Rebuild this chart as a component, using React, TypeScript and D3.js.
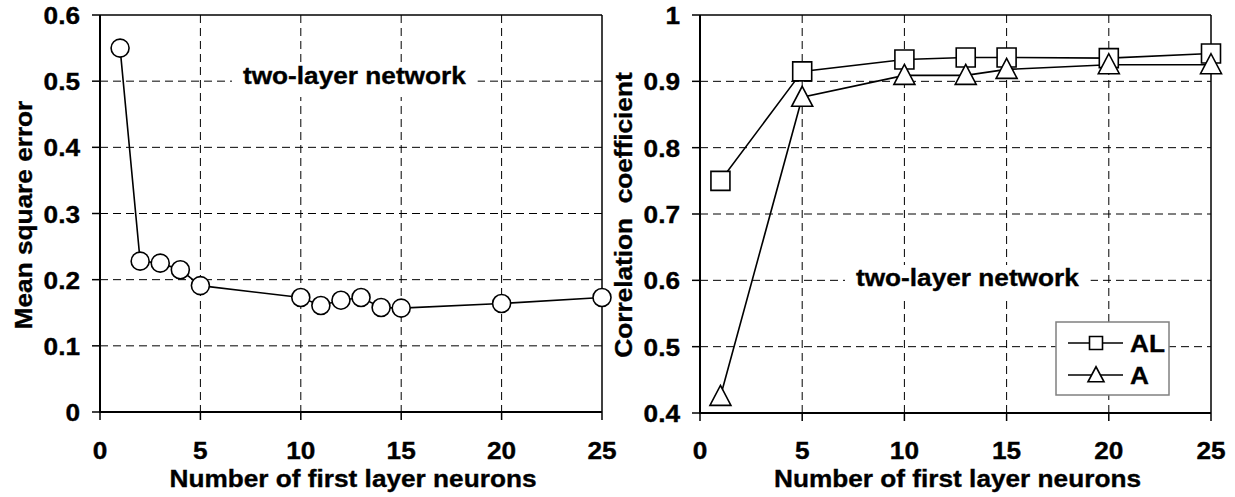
import React, { useEffect, useRef } from "react";
import * as d3 from "d3";

const width = 1235;
const height = 497;

const xTicks = [0, 5, 10, 15, 20, 25];
const mseTicks = [0, 0.1, 0.2, 0.3, 0.4, 0.5, 0.6];
const corrTicks = [0.4, 0.5, 0.6, 0.7, 0.8, 0.9, 1];

const mseX = [1, 2, 3, 4, 5, 10, 11, 12, 13, 14, 15, 20, 25];
const mseY = [0.55, 0.228, 0.225, 0.215, 0.191, 0.173, 0.161, 0.169, 0.173, 0.158, 0.157, 0.164, 0.173];

const corrX = [1, 5, 10, 13, 15, 20, 25];
const corrAL = [0.75, 0.915, 0.933, 0.936, 0.936, 0.935, 0.942];
const corrA = [0.425, 0.876, 0.909, 0.909, 0.918, 0.925, 0.925];

const seriesNames = ["AL", "A"];
const xTitle = "Number of first layer neurons";
const note = "two-layer network";

const FONT = "'Liberation Sans', Arial, sans-serif";
const SX = 1.07; // text in the picture is a bit wide
const FS = 24.5;

const fmt = (v) => String(+v.toFixed(1));

function txt(g, s, x, y, anchor = "start", rotate = 0, size = FS) {
  return g
    .append("text")
    .attr("transform", `translate(${x},${y})${rotate ? ` rotate(${rotate})` : ""} scale(${SX},1)`)
    .attr("text-anchor", anchor)
    .attr("font-family", FONT)
    .attr("font-weight", "bold")
    .attr("font-size", size)
    .attr("stroke", "#000")
    .attr("stroke-width", 0.35)
    .style("white-space", "pre")
    .text(s);
}

const squarePath = (s) => `M${-s / 2},${-s / 2}h${s}v${s}h${-s}Z`;
const trianglePath = (w, h) => `M0,${-h * 0.55}L${w / 2},${h * 0.45}L${-w / 2},${h * 0.45}Z`;

function drawPanel(svg, box, yTicks, yTitle, yTitleX, noteX, noteY) {
  const g = svg.append("g");
  const x = d3.scaleLinear().domain([0, 25]).range([box.left, box.right]);
  const y = d3.scaleLinear().domain([yTicks[0], yTicks[yTicks.length - 1]]).range([box.bottom, box.top]);

  // dashed grid
  xTicks.slice(1, -1).forEach((t) => {
    g.append("line")
      .attr("x1", x(t)).attr("x2", x(t))
      .attr("y1", box.top).attr("y2", box.bottom)
      .attr("stroke", "#000").attr("stroke-width", 1).attr("stroke-dasharray", "8,5");
  });
  yTicks.slice(1, -1).forEach((t) => {
    g.append("line")
      .attr("x1", box.left).attr("x2", box.right)
      .attr("y1", y(t)).attr("y2", y(t))
      .attr("stroke", "#000").attr("stroke-width", 1).attr("stroke-dasharray", "8,5");
  });

  // frame
  g.append("line").attr("x1", box.left).attr("x2", box.right).attr("y1", box.top).attr("y2", box.top)
    .attr("stroke", "#000").attr("stroke-width", 1.5);
  g.append("line").attr("x1", box.right).attr("x2", box.right).attr("y1", box.top).attr("y2", box.bottom)
    .attr("stroke", "#000").attr("stroke-width", 1.5);
  g.append("line").attr("x1", box.left).attr("x2", box.left).attr("y1", box.top).attr("y2", box.bottom + 1)
    .attr("stroke", "#000").attr("stroke-width", 2);
  g.append("line").attr("x1", box.left - 1).attr("x2", box.right).attr("y1", box.bottom).attr("y2", box.bottom)
    .attr("stroke", "#000").attr("stroke-width", 2);

  // ticks + labels
  yTicks.forEach((t) => {
    g.append("line").attr("x1", box.left - 8).attr("x2", box.left).attr("y1", y(t)).attr("y2", y(t))
      .attr("stroke", "#000").attr("stroke-width", 1.5);
    txt(g, fmt(t), box.left - 20, y(t) + 9, "end");
  });
  xTicks.forEach((t) => {
    g.append("line").attr("x1", x(t)).attr("x2", x(t)).attr("y1", box.bottom).attr("y2", box.bottom + 8)
      .attr("stroke", "#000").attr("stroke-width", 1.5);
    txt(g, String(t), x(t), 459, "middle");
  });

  txt(g, xTitle, (box.left + box.right) / 2 + 2, 487, "middle");
  txt(g, yTitle, yTitleX, 215, "middle", -90);

  // note with white backing
  const nt = txt(g, note, noteX, noteY, "start");
  const bb = nt.node().getBBox();
  const w = bb.width * SX;
  g.insert("rect", "text")
    .attr("x", noteX - 11).attr("y", noteY - 21)
    .attr("width", w + 22).attr("height", 34)
    .attr("fill", "#fff");

  return { g, x, y };
}

const App = () => {
  const svgRef = useRef();

  useEffect(() => {
    const svg = d3.select(svgRef.current);
    svg.selectAll("*").remove();

    // left panel
    const L = drawPanel(svg, { left: 100, right: 602, top: 15, bottom: 412 }, mseTicks, "Mean square error", 32, 243, 84);
    const mse = mseX.map((v, i) => [v, mseY[i]]);
    const lineL = d3.line().x((d) => L.x(d[0])).y((d) => L.y(d[1]));
    L.g.append("path").attr("d", lineL(mse)).attr("fill", "none").attr("stroke", "#000").attr("stroke-width", 1.6);
    L.g.selectAll(".pt").data(mse).enter().append("circle")
      .attr("cx", (d) => L.x(d[0])).attr("cy", (d) => L.y(d[1])).attr("r", 9)
      .attr("fill", "#fff").attr("stroke", "#000").attr("stroke-width", 1.6);

    // right panel
    const R = drawPanel(svg, { left: 700, right: 1211, top: 15, bottom: 413 }, corrTicks, "Correlation  coefficient", 632, 856, 286);
    const al = corrX.map((v, i) => [v, corrAL[i]]);
    const a = corrX.map((v, i) => [v, corrA[i]]);
    const lineR = d3.line().x((d) => R.x(d[0])).y((d) => R.y(d[1]));
    R.g.append("path").attr("d", lineR(al)).attr("fill", "none").attr("stroke", "#000").attr("stroke-width", 1.6);
    R.g.append("path").attr("d", lineR(a)).attr("fill", "none").attr("stroke", "#000").attr("stroke-width", 1.6);
    R.g.selectAll(".sq").data(al).enter().append("path")
      .attr("transform", (d) => `translate(${R.x(d[0])},${R.y(d[1])})`)
      .attr("d", squarePath(19))
      .attr("fill", "#fff").attr("stroke", "#000").attr("stroke-width", 1.6);
    R.g.selectAll(".tri").data(a).enter().append("path")
      .attr("transform", (d) => `translate(${R.x(d[0])},${R.y(d[1])})`)
      .attr("d", trianglePath(21, 20))
      .attr("fill", "#fff").attr("stroke", "#000").attr("stroke-width", 1.6);

    // legend
    const lg = R.g.append("g");
    lg.append("rect").attr("x", 1056).attr("y", 322).attr("width", 113).attr("height", 73)
      .attr("fill", "#fff").attr("stroke", "#808080").attr("stroke-width", 1.5);
    seriesNames.forEach((name, i) => {
      const cy = 343 + i * 32;
      lg.append("line").attr("x1", 1068).attr("x2", 1123).attr("y1", cy).attr("y2", cy)
        .attr("stroke", "#000").attr("stroke-width", 1.6);
      lg.append("path")
        .attr("transform", `translate(1096,${cy})`)
        .attr("d", i === 0 ? squarePath(13) : trianglePath(16, 15))
        .attr("fill", "#fff").attr("stroke", "#000").attr("stroke-width", 1.6);
      txt(lg, name, 1130, cy + 9, "start");
    });
  }, []);

  return (
    <svg
      ref={svgRef}
      width={width}
      height={height}
      style={{ position: "absolute", left: 0, top: 0, background: "#fff" }}
    ></svg>
  );
};

export default App;
